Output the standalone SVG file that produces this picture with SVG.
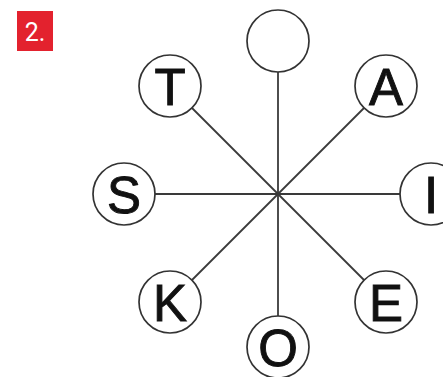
<svg xmlns="http://www.w3.org/2000/svg" width="443" height="377" viewBox="0 0 443 377">
<style>
.c{fill:#fff;stroke:#333;stroke-width:1.7}
.l{stroke:#3a3a3a;stroke-width:1.8}
.t{font-family:"Liberation Sans",Arial,sans-serif;font-size:51px;fill:#111;stroke:#111;stroke-width:0.9;text-anchor:middle}
</style>
<rect width="443" height="377" fill="#fff"/>
<g id="badge"><rect x="17" y="11" width="36" height="40" fill="#e3222e"/><text x="35" y="41" font-family="Roboto,'Liberation Sans',sans-serif" font-size="25" fill="#fff" text-anchor="middle">2.</text></g>
<g id="connectors">
<line class="l" x1="278" y1="194" x2="278" y2="41"/>
<line class="l" x1="278" y1="194" x2="170" y2="86"/>
<line class="l" x1="278" y1="194" x2="386" y2="86"/>
<line class="l" x1="278" y1="194" x2="124" y2="194"/>
<line class="l" x1="278" y1="194" x2="431" y2="194"/>
<line class="l" x1="278" y1="194" x2="170" y2="302"/>
<line class="l" x1="278" y1="194" x2="386" y2="302"/>
<line class="l" x1="278" y1="194" x2="278" y2="347"/>
</g>
<g id="n-top"><circle class="c" cx="278" cy="41" r="31"/></g>
<g id="n-T"><circle class="c" cx="170" cy="86" r="31"/><text class="t" x="170" y="104.5">T</text></g>
<g id="n-A"><circle class="c" cx="386" cy="86" r="31"/><text class="t" x="386" y="104.5">A</text></g>
<g id="n-S"><circle class="c" cx="124" cy="194" r="31"/><text class="t" x="124" y="212.5">S</text></g>
<g id="n-I"><circle class="c" cx="431" cy="194" r="31"/><text class="t" x="431" y="212.5">I</text></g>
<g id="n-K"><circle class="c" cx="170" cy="302" r="31"/><text class="t" x="170" y="320.5">K</text></g>
<g id="n-E"><circle class="c" cx="386" cy="302" r="31"/><text class="t" x="386" y="320.5">E</text></g>
<g id="n-O"><circle class="c" cx="278" cy="347" r="31"/><text class="t" x="278" y="365.5">O</text></g>
</svg>
